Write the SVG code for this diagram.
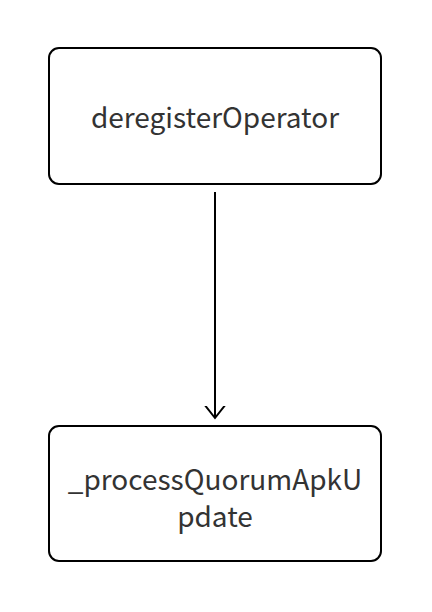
<svg xmlns="http://www.w3.org/2000/svg" width="432" height="612" viewBox="0 0 432 612">
<style>
.node rect{fill:#fff;stroke:#000;stroke-width:2}
.node text{font-family:"Noto Sans CJK SC","Noto Sans",sans-serif;font-size:28px;fill:#333;text-anchor:middle}
.edge{stroke:#000;stroke-width:2;fill:none}
</style>
<defs>
<marker id="arr" markerWidth="26" markerHeight="26" refX="12" refY="13" orient="auto" markerUnits="userSpaceOnUse">
<path d="M-2,2 L12,13 L-2,24" fill="none" stroke="#000" stroke-width="2"/>
</marker>
</defs>
<rect width="432" height="612" fill="#fff"/>
<g id="n1" class="node">
<rect x="49" y="48" width="332" height="136" rx="10"/>
<text x="215" y="128">deregisterOperator</text>
</g>
<g id="n2" class="node">
<rect x="49" y="426" width="332" height="135" rx="10"/>
<text x="215" y="490">_processQuorumApkU</text>
<text x="215" y="527">pdate</text>
</g>
<g id="edges">
<path class="edge" d="M215,192 L215,418" marker-end="url(#arr)"/>
</g>
</svg>
